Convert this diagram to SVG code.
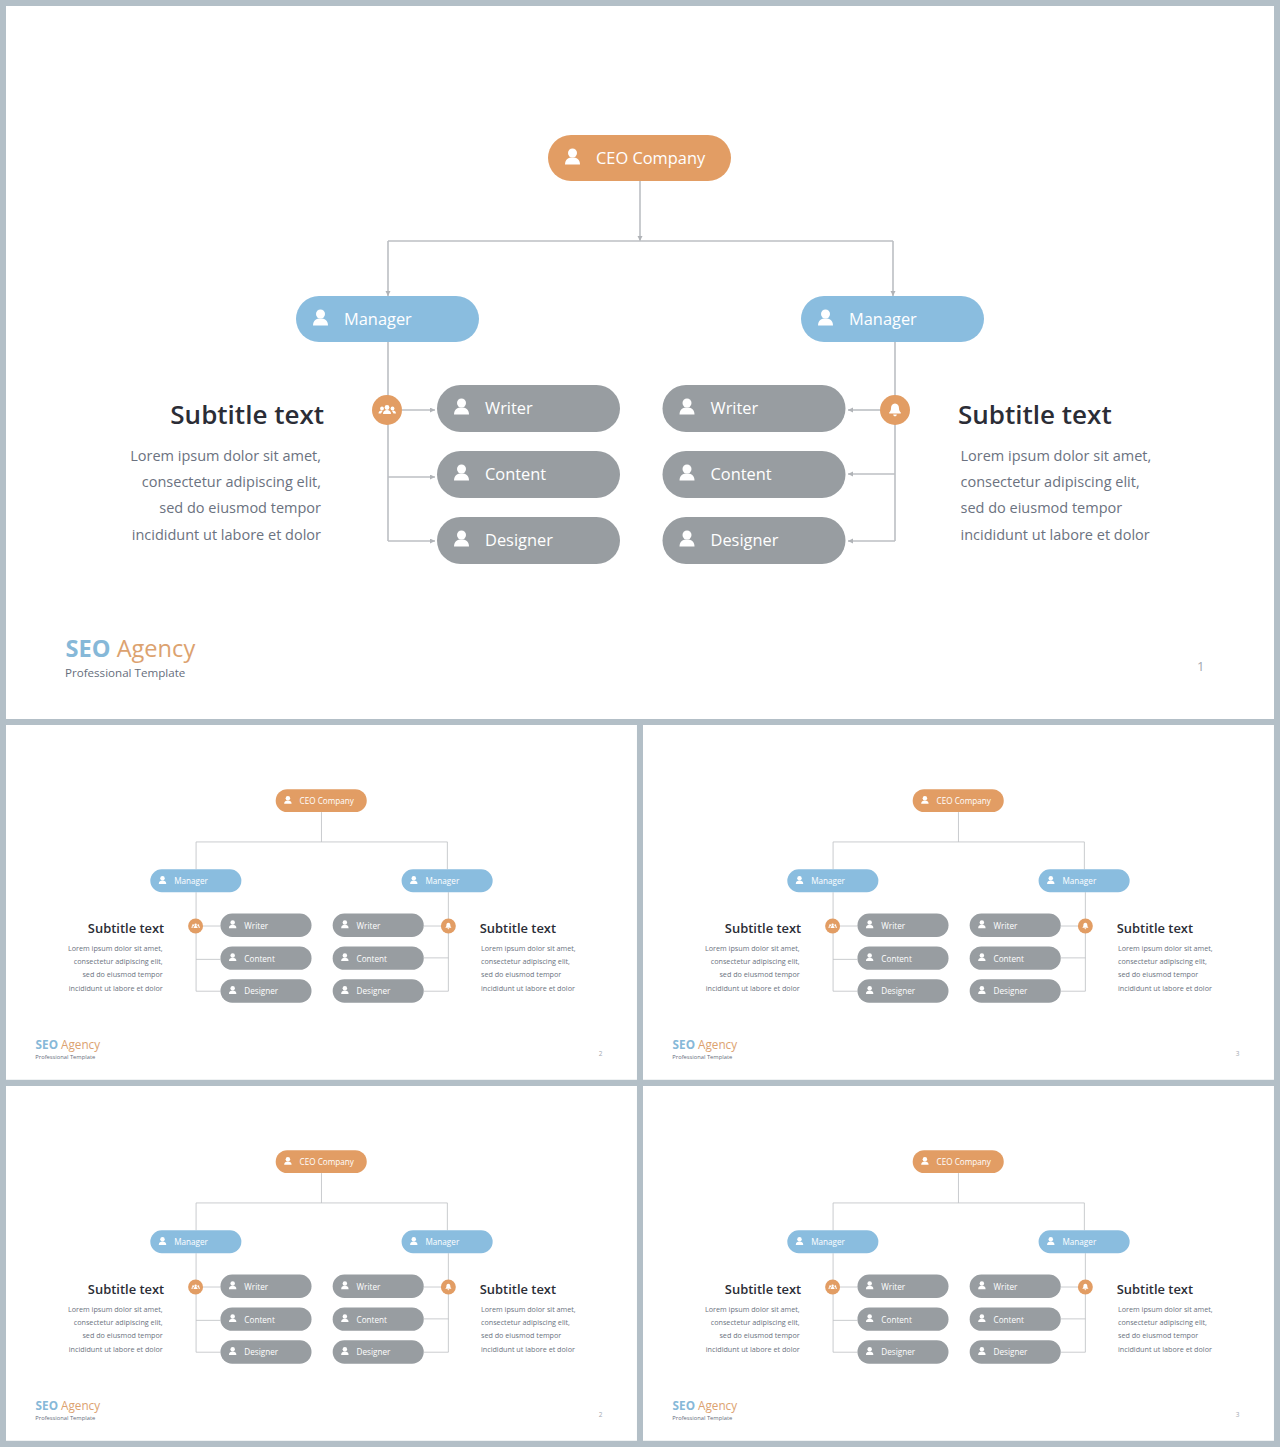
<svg xmlns="http://www.w3.org/2000/svg" width="1280" height="1447" viewBox="0 0 1280 1447">
<style>
text{font-family:"Open Sans","Noto Sans","Liberation Sans",sans-serif}
.pt{font-size:16.4px;fill:#fff}
#slide2 .pt,#slide3 .pt,#slide4 .pt,#slide5 .pt{transform:translateY(1.6px)}
.st{font-size:26px;font-weight:600;fill:#2b2d36}
.lo{font-size:14.5px;fill:#6b7280}
.r{text-anchor:end}
.b1{font-size:23.6px;font-weight:700;fill:#86b8d8}
.b2{font-size:23.6px;fill:#dca26f}
.b3{font-size:11.6px;fill:#666e7c}
.pg{font-size:13px;fill:#9aa0a8;opacity:.9}
.cn{fill:none;stroke:#bcbfc3;stroke-width:1.6}
.ar{marker-end:url(#ah)}
</style>
<defs>
<marker id="ah" markerWidth="6" markerHeight="6" refX="5" refY="2.5" orient="auto" markerUnits="userSpaceOnUse"><path d="M0 0L5 2.5L0 5z" fill="#b0b3b7"/></marker>
<g id="pi"><circle cx="24.500" cy="18" r="4.500" fill="#fff"/><path d="M17 29.500c0-5.300 3.500-7 7.500-7s7.500 1.700 7.500 7z" fill="#fff"/></g>
<g id="po"><rect width="183" height="46" rx="23" fill="#e29d64"/><use href="#pi"/></g>
<g id="pb"><rect width="183" height="46" rx="23" fill="#8abddf"/><use href="#pi"/></g>
<g id="pg"><rect width="183" height="47" rx="23.500" fill="#989da1"/><use href="#pi"/></g>
<g id="ig"><circle r="15" fill="#e29d64"/><g fill="#fff"><circle cy="-2.500" r="2.400"/><circle cx="-5" cy="-1.500" r="1.900"/><circle cx="5.500" cy="-1.500" r="1.900"/><path d="M-4 4c0-3 2-4 4-4s4 1 4 4zM-8.500 3.500c0-2 1.300-3 3-3l1 .5-1.500 2.500zM9 3.500c0-2-1.300-3-3-3l-1 .5 1.500 2.500z"/></g></g>
<g id="ib"><circle r="15" fill="#e29d64"/><path fill="#fff" d="M0-6.500c2.800 0 4 2.200 4 4.800 0 2.200.8 3.200 1.800 4.200v1h-11.600v-1c1-1 1.800-2 1.800-4.200 0-2.600 1.200-4.800 4-4.800zM-1.800 4.500h3.600c0 1-.8 1.800-1.800 1.800s-1.800-.8-1.800-1.800z"/></g>
</defs>
<rect width="1280" height="1447" fill="#b3bfc7"/>

<g id="slide1">
<rect id="s1-bg" x="6" y="6" width="1268" height="713" fill="#fff"/>
<g id="s1-connectors">
<path class="cn ar" d="M640 181V241"/><path class="cn" d="M388 241H893"/>
<path class="cn ar" d="M388 241V296"/><path class="cn ar" d="M893 241V296"/>
<path class="cn" d="M388 342V541"/><path class="cn ar" d="M402 410H435"/><path class="cn ar" d="M388 477H435"/><path class="cn ar" d="M388 541H435"/>
<path class="cn" d="M895 342V541"/><path class="cn ar" d="M880 410H848"/><path class="cn ar" d="M895 474H848"/><path class="cn ar" d="M895 541H848"/>
</g>
<g id="s1-ceo" transform="translate(548,135)"><use href="#po"/><text class="pt" x="48" y="28.500">CEO Company</text></g>
<g id="s1-mgr-l" transform="translate(296,296)"><use href="#pb"/><text class="pt" x="48" y="28.500">Manager</text></g>
<g id="s1-mgr-r" transform="translate(801,296)"><use href="#pb"/><text class="pt" x="48" y="28.500">Manager</text></g>
<g id="s1-w-l" transform="translate(437,385)"><use href="#pg"/><text class="pt" x="48" y="29">Writer</text></g>
<g id="s1-c-l" transform="translate(437,451)"><use href="#pg"/><text class="pt" x="48" y="29">Content</text></g>
<g id="s1-d-l" transform="translate(437,517)"><use href="#pg"/><text class="pt" x="48" y="29">Designer</text></g>
<g id="s1-w-r" transform="translate(662.500,385)"><use href="#pg"/><text class="pt" x="48" y="29">Writer</text></g>
<g id="s1-c-r" transform="translate(662.500,451)"><use href="#pg"/><text class="pt" x="48" y="29">Content</text></g>
<g id="s1-d-r" transform="translate(662.500,517)"><use href="#pg"/><text class="pt" x="48" y="29">Designer</text></g>
<g id="s1-ic-l" transform="translate(387,410)"><use href="#ig"/></g>
<g id="s1-ic-r" transform="translate(895,410)"><use href="#ib"/></g>
<g id="s1-txt-l"><text class="st r" x="324" y="424">Subtitle text</text><text class="lo r" x="321" y="461">Lorem ipsum dolor sit amet,</text><text class="lo r" x="321" y="487">consectetur adipiscing elit,</text><text class="lo r" x="321" y="513">sed do eiusmod tempor</text><text class="lo r" x="321" y="540">incididunt ut labore et dolor</text></g>
<g id="s1-txt-r"><text class="st" x="958" y="424">Subtitle text</text><text class="lo" x="960.500" y="461">Lorem ipsum dolor sit amet,</text><text class="lo" x="960.500" y="487">consectetur adipiscing elit,</text><text class="lo" x="960.500" y="513">sed do eiusmod tempor</text><text class="lo" x="960.500" y="540">incididunt ut labore et dolor</text></g>
<g id="s1-brand"><text x="65.500" y="657"><tspan class="b1">SEO</tspan><tspan class="b2"> Agency</tspan></text><text class="b3" x="65" y="677">Professional Template</text></g>
<text class="pg" x="1197" y="671">1</text>
</g>

<g id="slide2" transform="translate(3.014,722.014) scale(.4976)">
<rect id="s2-bg" x="6" y="6" width="1268" height="713" fill="#fff"/>
<g id="s2-connectors"><path class="cn" d="M640 181V241"/><path class="cn" d="M388 296V241H893V296"/><path class="cn" d="M388 342V541H437M402 410H437M388 477H437"/><path class="cn" d="M895 342V541H846M880 410H846M895 474H846"/></g>
<g id="s2-ceo" transform="translate(548,135)"><use href="#po"/><text class="pt" x="48" y="28.500">CEO Company</text></g>
<g id="s2-mgr-l" transform="translate(296,296)"><use href="#pb"/><text class="pt" x="48" y="28.500">Manager</text></g>
<g id="s2-mgr-r" transform="translate(801,296)"><use href="#pb"/><text class="pt" x="48" y="28.500">Manager</text></g>
<g id="s2-w-l" transform="translate(437,385)"><use href="#pg"/><text class="pt" x="48" y="29">Writer</text></g>
<g id="s2-c-l" transform="translate(437,451)"><use href="#pg"/><text class="pt" x="48" y="29">Content</text></g>
<g id="s2-d-l" transform="translate(437,517)"><use href="#pg"/><text class="pt" x="48" y="29">Designer</text></g>
<g id="s2-w-r" transform="translate(662.500,385)"><use href="#pg"/><text class="pt" x="48" y="29">Writer</text></g>
<g id="s2-c-r" transform="translate(662.500,451)"><use href="#pg"/><text class="pt" x="48" y="29">Content</text></g>
<g id="s2-d-r" transform="translate(662.500,517)"><use href="#pg"/><text class="pt" x="48" y="29">Designer</text></g>
<g id="s2-ic-l" transform="translate(387,410)"><use href="#ig"/></g>
<g id="s2-ic-r" transform="translate(895,410)"><use href="#ib"/></g>
<g id="s2-txt-l"><text class="st r" x="324" y="424">Subtitle text</text><text class="lo r" x="321" y="461">Lorem ipsum dolor sit amet,</text><text class="lo r" x="321" y="487">consectetur adipiscing elit,</text><text class="lo r" x="321" y="513">sed do eiusmod tempor</text><text class="lo r" x="321" y="540">incididunt ut labore et dolor</text></g>
<g id="s2-txt-r"><text class="st" x="958" y="424">Subtitle text</text><text class="lo" x="960.500" y="461">Lorem ipsum dolor sit amet,</text><text class="lo" x="960.500" y="487">consectetur adipiscing elit,</text><text class="lo" x="960.500" y="513">sed do eiusmod tempor</text><text class="lo" x="960.500" y="540">incididunt ut labore et dolor</text></g>
<g id="s2-brand"><text x="65.500" y="657"><tspan class="b1">SEO</tspan><tspan class="b2"> Agency</tspan></text><text class="b3" x="65" y="677">Professional Template</text></g>
<text class="pg" x="1197" y="671">2</text>
</g>

<g id="slide3" transform="translate(640.014,722.014) scale(.4976)">
<rect id="s3-bg" x="6" y="6" width="1268" height="713" fill="#fff"/>
<g id="s3-connectors"><path class="cn" d="M640 181V241"/><path class="cn" d="M388 296V241H893V296"/><path class="cn" d="M388 342V541H437M402 410H437M388 477H437"/><path class="cn" d="M895 342V541H846M880 410H846M895 474H846"/></g>
<g id="s3-ceo" transform="translate(548,135)"><use href="#po"/><text class="pt" x="48" y="28.500">CEO Company</text></g>
<g id="s3-mgr-l" transform="translate(296,296)"><use href="#pb"/><text class="pt" x="48" y="28.500">Manager</text></g>
<g id="s3-mgr-r" transform="translate(801,296)"><use href="#pb"/><text class="pt" x="48" y="28.500">Manager</text></g>
<g id="s3-w-l" transform="translate(437,385)"><use href="#pg"/><text class="pt" x="48" y="29">Writer</text></g>
<g id="s3-c-l" transform="translate(437,451)"><use href="#pg"/><text class="pt" x="48" y="29">Content</text></g>
<g id="s3-d-l" transform="translate(437,517)"><use href="#pg"/><text class="pt" x="48" y="29">Designer</text></g>
<g id="s3-w-r" transform="translate(662.500,385)"><use href="#pg"/><text class="pt" x="48" y="29">Writer</text></g>
<g id="s3-c-r" transform="translate(662.500,451)"><use href="#pg"/><text class="pt" x="48" y="29">Content</text></g>
<g id="s3-d-r" transform="translate(662.500,517)"><use href="#pg"/><text class="pt" x="48" y="29">Designer</text></g>
<g id="s3-ic-l" transform="translate(387,410)"><use href="#ig"/></g>
<g id="s3-ic-r" transform="translate(895,410)"><use href="#ib"/></g>
<g id="s3-txt-l"><text class="st r" x="324" y="424">Subtitle text</text><text class="lo r" x="321" y="461">Lorem ipsum dolor sit amet,</text><text class="lo r" x="321" y="487">consectetur adipiscing elit,</text><text class="lo r" x="321" y="513">sed do eiusmod tempor</text><text class="lo r" x="321" y="540">incididunt ut labore et dolor</text></g>
<g id="s3-txt-r"><text class="st" x="958" y="424">Subtitle text</text><text class="lo" x="960.500" y="461">Lorem ipsum dolor sit amet,</text><text class="lo" x="960.500" y="487">consectetur adipiscing elit,</text><text class="lo" x="960.500" y="513">sed do eiusmod tempor</text><text class="lo" x="960.500" y="540">incididunt ut labore et dolor</text></g>
<g id="s3-brand"><text x="65.500" y="657"><tspan class="b1">SEO</tspan><tspan class="b2"> Agency</tspan></text><text class="b3" x="65" y="677">Professional Template</text></g>
<text class="pg" x="1197" y="671">3</text>
</g>

<g id="slide4" transform="translate(3.014,1083.014) scale(.4976)">
<rect id="s4-bg" x="6" y="6" width="1268" height="713" fill="#fff"/>
<g id="s4-connectors"><path class="cn" d="M640 181V241"/><path class="cn" d="M388 296V241H893V296"/><path class="cn" d="M388 342V541H437M402 410H437M388 477H437"/><path class="cn" d="M895 342V541H846M880 410H846M895 474H846"/></g>
<g id="s4-ceo" transform="translate(548,135)"><use href="#po"/><text class="pt" x="48" y="28.500">CEO Company</text></g>
<g id="s4-mgr-l" transform="translate(296,296)"><use href="#pb"/><text class="pt" x="48" y="28.500">Manager</text></g>
<g id="s4-mgr-r" transform="translate(801,296)"><use href="#pb"/><text class="pt" x="48" y="28.500">Manager</text></g>
<g id="s4-w-l" transform="translate(437,385)"><use href="#pg"/><text class="pt" x="48" y="29">Writer</text></g>
<g id="s4-c-l" transform="translate(437,451)"><use href="#pg"/><text class="pt" x="48" y="29">Content</text></g>
<g id="s4-d-l" transform="translate(437,517)"><use href="#pg"/><text class="pt" x="48" y="29">Designer</text></g>
<g id="s4-w-r" transform="translate(662.500,385)"><use href="#pg"/><text class="pt" x="48" y="29">Writer</text></g>
<g id="s4-c-r" transform="translate(662.500,451)"><use href="#pg"/><text class="pt" x="48" y="29">Content</text></g>
<g id="s4-d-r" transform="translate(662.500,517)"><use href="#pg"/><text class="pt" x="48" y="29">Designer</text></g>
<g id="s4-ic-l" transform="translate(387,410)"><use href="#ig"/></g>
<g id="s4-ic-r" transform="translate(895,410)"><use href="#ib"/></g>
<g id="s4-txt-l"><text class="st r" x="324" y="424">Subtitle text</text><text class="lo r" x="321" y="461">Lorem ipsum dolor sit amet,</text><text class="lo r" x="321" y="487">consectetur adipiscing elit,</text><text class="lo r" x="321" y="513">sed do eiusmod tempor</text><text class="lo r" x="321" y="540">incididunt ut labore et dolor</text></g>
<g id="s4-txt-r"><text class="st" x="958" y="424">Subtitle text</text><text class="lo" x="960.500" y="461">Lorem ipsum dolor sit amet,</text><text class="lo" x="960.500" y="487">consectetur adipiscing elit,</text><text class="lo" x="960.500" y="513">sed do eiusmod tempor</text><text class="lo" x="960.500" y="540">incididunt ut labore et dolor</text></g>
<g id="s4-brand"><text x="65.500" y="657"><tspan class="b1">SEO</tspan><tspan class="b2"> Agency</tspan></text><text class="b3" x="65" y="677">Professional Template</text></g>
<text class="pg" x="1197" y="671">2</text>
</g>

<g id="slide5" transform="translate(640.014,1083.014) scale(.4976)">
<rect id="s5-bg" x="6" y="6" width="1268" height="713" fill="#fff"/>
<g id="s5-connectors"><path class="cn" d="M640 181V241"/><path class="cn" d="M388 296V241H893V296"/><path class="cn" d="M388 342V541H437M402 410H437M388 477H437"/><path class="cn" d="M895 342V541H846M880 410H846M895 474H846"/></g>
<g id="s5-ceo" transform="translate(548,135)"><use href="#po"/><text class="pt" x="48" y="28.500">CEO Company</text></g>
<g id="s5-mgr-l" transform="translate(296,296)"><use href="#pb"/><text class="pt" x="48" y="28.500">Manager</text></g>
<g id="s5-mgr-r" transform="translate(801,296)"><use href="#pb"/><text class="pt" x="48" y="28.500">Manager</text></g>
<g id="s5-w-l" transform="translate(437,385)"><use href="#pg"/><text class="pt" x="48" y="29">Writer</text></g>
<g id="s5-c-l" transform="translate(437,451)"><use href="#pg"/><text class="pt" x="48" y="29">Content</text></g>
<g id="s5-d-l" transform="translate(437,517)"><use href="#pg"/><text class="pt" x="48" y="29">Designer</text></g>
<g id="s5-w-r" transform="translate(662.500,385)"><use href="#pg"/><text class="pt" x="48" y="29">Writer</text></g>
<g id="s5-c-r" transform="translate(662.500,451)"><use href="#pg"/><text class="pt" x="48" y="29">Content</text></g>
<g id="s5-d-r" transform="translate(662.500,517)"><use href="#pg"/><text class="pt" x="48" y="29">Designer</text></g>
<g id="s5-ic-l" transform="translate(387,410)"><use href="#ig"/></g>
<g id="s5-ic-r" transform="translate(895,410)"><use href="#ib"/></g>
<g id="s5-txt-l"><text class="st r" x="324" y="424">Subtitle text</text><text class="lo r" x="321" y="461">Lorem ipsum dolor sit amet,</text><text class="lo r" x="321" y="487">consectetur adipiscing elit,</text><text class="lo r" x="321" y="513">sed do eiusmod tempor</text><text class="lo r" x="321" y="540">incididunt ut labore et dolor</text></g>
<g id="s5-txt-r"><text class="st" x="958" y="424">Subtitle text</text><text class="lo" x="960.500" y="461">Lorem ipsum dolor sit amet,</text><text class="lo" x="960.500" y="487">consectetur adipiscing elit,</text><text class="lo" x="960.500" y="513">sed do eiusmod tempor</text><text class="lo" x="960.500" y="540">incididunt ut labore et dolor</text></g>
<g id="s5-brand"><text x="65.500" y="657"><tspan class="b1">SEO</tspan><tspan class="b2"> Agency</tspan></text><text class="b3" x="65" y="677">Professional Template</text></g>
<text class="pg" x="1197" y="671">3</text>
</g>
</svg>
